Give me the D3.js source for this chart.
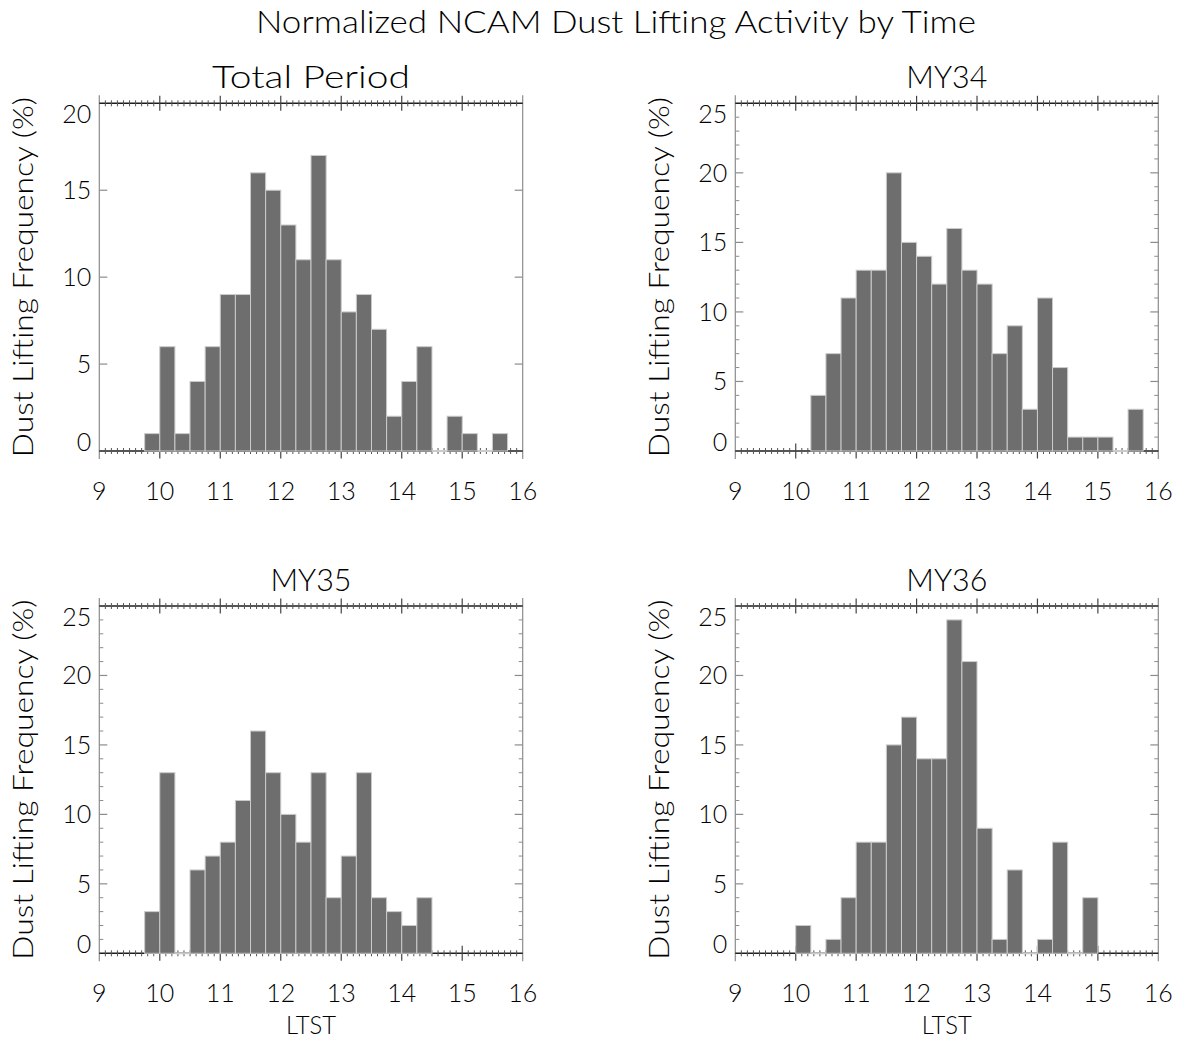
<!DOCTYPE html>
<html>
<head>
<meta charset="utf-8">
<script src="https://cdn.jsdelivr.net/npm/d3@7"></script>
<style>
  html, body { margin: 0; padding: 0; background: #fff; }
  svg text { font-family: Lato, "DejaVu Sans", sans-serif; font-weight: 300; fill: #000; }
</style>
</head>
<body>
<svg id="chart" width="1180" height="1040"></svg>
<script>
// ---- data ----
const binStarts = [9.00, 9.25, 9.50, 9.75, 10.00, 10.25, 10.50, 10.75, 11.00, 11.25, 11.50, 11.75,
                   12.00, 12.25, 12.50, 12.75, 13.00, 13.25, 13.50, 13.75, 14.00, 14.25, 14.50, 14.75,
                   15.00, 15.25, 15.50, 15.75];
const binWidth = 0.25;
const totalPeriod = [0, 0, 0, 1, 6, 1, 4, 6, 9, 9, 16, 15, 13, 11, 17, 11, 8, 9, 7, 2, 4, 6, 0, 2, 1, 0, 1, 0];
const my34 =        [0, 0, 0, 0, 0, 4, 7, 11, 13, 13, 20, 15, 14, 12, 16, 13, 12, 7, 9, 3, 11, 6, 1, 1, 1, 0, 3, 0];
const my35 =        [0, 0, 0, 3, 13, 0, 6, 7, 8, 11, 16, 13, 10, 8, 13, 4, 7, 13, 4, 3, 2, 4, 0, 0, 0, 0, 0, 0];
const my36 =        [0, 0, 0, 0, 2, 0, 1, 4, 8, 8, 15, 17, 14, 14, 24, 21, 9, 1, 6, 0, 1, 8, 0, 4, 0, 0, 0, 0];
const xTickLabels = [9, 10, 11, 12, 13, 14, 15, 16];
const yTicksTotal = [0, 5, 10, 15, 20];
const yTicksYear = [0, 5, 10, 15, 20, 25];
const panelTitles = ["Total Period", "MY34", "MY35", "MY36"];
const mainTitle = "Normalized NCAM Dust Lifting Activity by Time";
const yAxisTitle = "Dust Lifting Frequency (%)";
const xAxisTitle = "LTST";

// ---- layout ----
const svg = d3.select("#chart");
const panels = [
  { title: panelTitles[0], values: totalPeriod, yMax: 20, yTicks: yTicksTotal, minorY: false, x0: 99.3, x1: 522.7, y0: 103.3, y1: 451, xTitle: false, tl: 198 },
  { title: panelTitles[1], values: my34, yMax: 25, yTicks: yTicksYear, minorY: true, x0: 735.3, x1: 1158.3, y0: 103.3, y1: 451, xTitle: false, tl: 81 },
  { title: panelTitles[2], values: my35, yMax: 25, yTicks: yTicksYear, minorY: true, x0: 99.3, x1: 522.7, y0: 606, y1: 953.3, xTitle: true, tl: 81 },
  { title: panelTitles[3], values: my36, yMax: 25, yTicks: yTicksYear, minorY: true, x0: 735.3, x1: 1158.3, y0: 606, y1: 953.3, xTitle: true, tl: 81 }
];

svg.append("text")
  .attr("x", 616).attr("y", 33)
  .attr("text-anchor", "middle")
  .attr("font-size", 31)
  .attr("textLength", 720).attr("lengthAdjust", "spacingAndGlyphs")
  .text(mainTitle);

const barFill = "#6e6e6e", barStroke = "#cbcbcb", boxColor = "#8c8c8c", axisDark = "#1e1e1e";

panels.forEach(p => {
  const x = d3.scaleLinear().domain([9, 16]).range([p.x0, p.x1]);
  const y = d3.scaleLinear().domain([0, p.yMax]).range([p.y1, p.y0]);
  const g = svg.append("g");

  // left/right borders
  [p.x0, p.x1].forEach(xx => {
    g.append("line").attr("x1", xx).attr("x2", xx)
      .attr("y1", p.y0 - 8).attr("y2", p.y1 + 8)
      .attr("stroke", boxColor).attr("stroke-width", 1.2);
  });

  // y ticks (left & right, inward)
  const majorY = p.yTicks.filter(v => v > 0 && v < p.yMax);
  const minorY = p.minorY ? d3.range(1, p.yMax).filter(v => v % 5 !== 0) : [];
  majorY.forEach(v => {
    g.append("line").attr("x1", p.x0).attr("x2", p.x0 + 8).attr("y1", y(v)).attr("y2", y(v)).attr("stroke", boxColor).attr("stroke-width", 1.2);
    g.append("line").attr("x1", p.x1).attr("x2", p.x1 - 8).attr("y1", y(v)).attr("y2", y(v)).attr("stroke", boxColor).attr("stroke-width", 1.2);
  });
  minorY.forEach(v => {
    g.append("line").attr("x1", p.x0).attr("x2", p.x0 + 4).attr("y1", y(v)).attr("y2", y(v)).attr("stroke", boxColor).attr("stroke-width", 1);
    g.append("line").attr("x1", p.x1).attr("x2", p.x1 - 4).attr("y1", y(v)).attr("y2", y(v)).attr("stroke", boxColor).attr("stroke-width", 1);
  });

  // x axes (top and bottom) : dark line, minor ticks crossing, major ticks
  const minorX = d3.range(91, 160).map(v => v / 10).filter(v => Math.abs(v - Math.round(v)) > 1e-6);
  [p.y0, p.y1].forEach(yy => {
    g.append("line").attr("x1", p.x0).attr("x2", p.x1).attr("y1", yy).attr("y2", yy)
      .attr("stroke", axisDark).attr("stroke-width", 1.5);
    minorX.forEach(v => {
      g.append("line").attr("x1", x(v)).attr("x2", x(v)).attr("y1", yy - 3).attr("y2", yy + 3)
        .attr("stroke", "#555").attr("stroke-width", 1);
    });
    xTickLabels.slice(1, -1).forEach(v => {
      g.append("line").attr("x1", x(v)).attr("x2", x(v)).attr("y1", yy - 7.5).attr("y2", yy + 7.5)
        .attr("stroke", "#444").attr("stroke-width", 1.2);
    });
  });

  // bars
  const idx = p.values.map((v, i) => v > 0 ? i : -1).filter(i => i >= 0);
  const first = d3.min(idx), last = d3.max(idx);
  const bins = binStarts.map((b, i) => ({ b, v: p.values[i], i })).filter(d => d.i >= first && d.i <= last);
  g.selectAll("rect.bar").data(bins.filter(d => d.v > 0)).join("rect")
    .attr("class", "bar")
    .attr("x", d => x(d.b)).attr("width", d => x(d.b + binWidth) - x(d.b))
    .attr("y", d => y(d.v)).attr("height", d => y(0) - y(d.v))
    .attr("fill", barFill).attr("stroke", barStroke).attr("stroke-width", 1);
  g.selectAll("line.zero").data(bins.filter(d => d.v === 0)).join("line")
    .attr("class", "zero")
    .attr("x1", d => x(d.b)).attr("x2", d => x(d.b + binWidth))
    .attr("y1", y(0)).attr("y2", y(0))
    .attr("stroke", barStroke).attr("stroke-width", 2);

  // y tick labels
  p.yTicks.forEach(v => {
    let by = y(v) + 9;
    if (v === p.yMax) by = p.y0 + 19.5;
    if (v === 0) by = p.y1 - 0.5;
    g.append("text").attr("x", p.x0 - 8).attr("y", by)
      .attr("text-anchor", "end").attr("font-size", 25).text(v);
  });

  // x tick labels
  xTickLabels.forEach(v => {
    g.append("text").attr("x", x(v)).attr("y", p.y1 + 49)
      .attr("text-anchor", "middle").attr("font-size", 25).text(v);
  });

  // panel title
  g.append("text").attr("x", (p.x0 + p.x1) / 2).attr("y", p.y0 - 15)
    .attr("text-anchor", "middle").attr("font-size", 31)
    .attr("textLength", p.tl).attr("lengthAdjust", "spacingAndGlyphs")
    .text(p.title);

  // y axis title
  const cy = (p.y0 + p.y1) / 2;
  const yx = p.x0 - 66;
  g.append("text")
    .attr("transform", `translate(${yx},${cy}) rotate(-90)`)
    .attr("text-anchor", "middle").attr("font-size", 28)
    .attr("textLength", 360).attr("lengthAdjust", "spacingAndGlyphs")
    .text(yAxisTitle);

  if (p.xTitle) {
    g.append("text").attr("x", (p.x0 + p.x1) / 2).attr("y", p.y1 + 81)
      .attr("text-anchor", "middle").attr("font-size", 25)
      .attr("textLength", 50).attr("lengthAdjust", "spacingAndGlyphs")
      .text(xAxisTitle);
  }
});
</script>
</body>
</html>
